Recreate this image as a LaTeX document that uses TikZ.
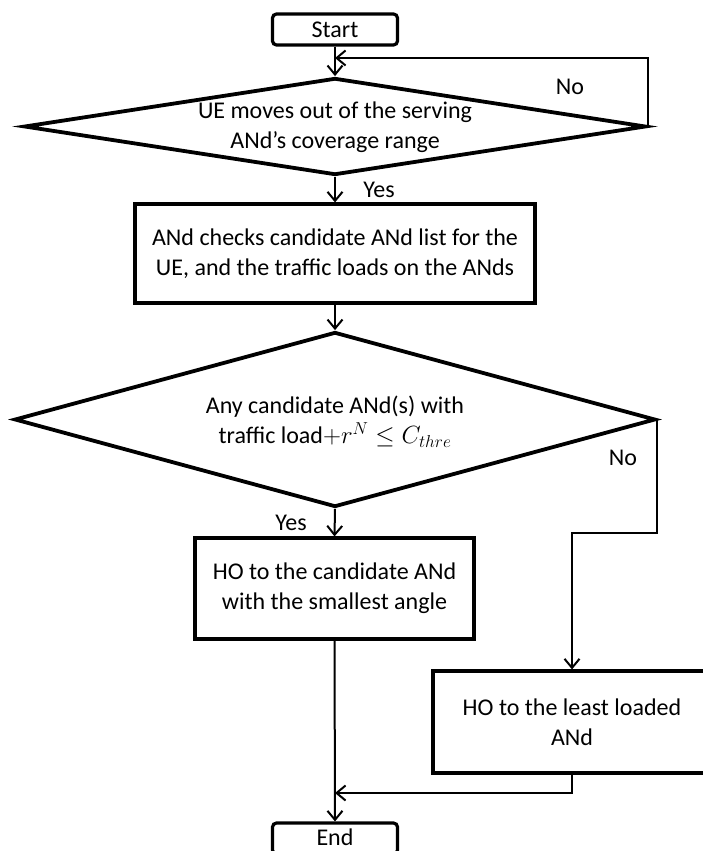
\documentclass[tikz,border=0pt]{standalone}
\usepackage{fontspec}
\setmainfont{Carlito}
\usetikzlibrary{shapes.geometric,arrows.meta}
\begin{document}
\begin{tikzpicture}[x=1pt,y=-1pt,
  every node/.style={font=\fontsize{24}{30}\selectfont, inner sep=0pt},
  terminal/.style={draw, rounded corners=4pt, line width=3.2pt, minimum width=125pt, minimum height=31pt},
  process/.style={draw, line width=3.2pt, align=center},
  decision/.style={draw, diamond, line width=3.8pt},
  flow/.style={line width=2pt, -{Straight Barb[length=9pt,width=15pt,line width=2pt]}},
  lbl/.style={}
]
\clip (0,0) rectangle (703,851);

% terminals
\node[terminal] (start) at (335,29.5) {Start};
\node[terminal] (end) at (335,838.5) {};
\node (endt) at (335,837) {End};

% first decision
\node[decision, minimum width=622pt, minimum height=97pt] (d1) at (335,126.5) {};
\node[align=center] (d1t) at (335,127) {UE moves out of the serving\\ANd’s coverage range};

% checking step
\node[process, minimum width=400pt, minimum height=99pt] (b1) at (335,253.5)
  {ANd checks candidate ANd list for the\\UE, and the traffic loads on the ANds};

% second decision
\node[decision, minimum width=641pt, minimum height=175pt] (d2) at (335,419.5) {};
\node[align=center] (d2t) at (335,422) {Any candidate ANd(s) with\\traffic load$+r^N \le C_{thre}$};

% handover outcomes
\node[process, minimum width=279pt, minimum height=101pt] (b2) at (334.5,588.5)
  {HO to the candidate ANd\\with the smallest angle};
\node[process, minimum width=278pt, minimum height=102pt] (b3) at (572,722)
  {HO to the least loaded\\ANd};

% bend and junction points
\coordinate (loopin) at (335,58);
\coordinate (nobend) at (572,533);
\coordinate (merge) at (335,793);

% connectors
\draw[flow] (start.south) -- (d1.north);
\draw[flow] (d1.east) |- (loopin);
\draw[flow] (d1.south) -- (b1.north);
\draw[flow] (b1.south) -- (d2.north);
\draw[flow] (d2.south) -- (b2.north);
\draw[flow] (d2.east) |- (nobend) -- (b3.north);
\draw[flow] (b3.south) |- (merge);
\draw[flow] (b2.south) -- (end.north);

% branch labels
\node[lbl] (no1) at (570,87) {No};
\node[lbl] (yes1) at (379,190) {Yes};
\node[lbl] (yes2) at (291,523) {Yes};
\node[lbl] (no2) at (623,458) {No};
\end{tikzpicture}
\end{document}
